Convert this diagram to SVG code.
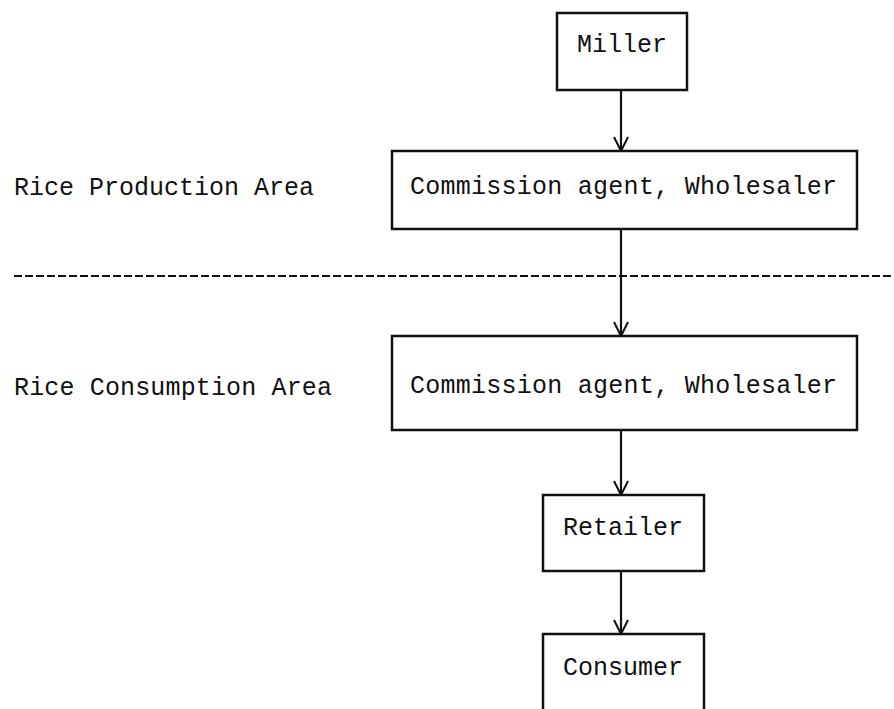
<svg xmlns="http://www.w3.org/2000/svg" width="894" height="709" viewBox="0 0 894 709">
<style>
.box{fill:#fff;stroke:#111;stroke-width:2.5}
.t{font-family:"Liberation Mono","Courier New",monospace;font-size:25px;fill:#111}
.c{text-anchor:middle}
.ln{stroke:#111;stroke-width:2.2;fill:none}
</style>
<defs>
<marker id="ah" viewBox="0 0 16 16" refX="15" refY="8" markerWidth="16" markerHeight="16" markerUnits="userSpaceOnUse" orient="auto">
<path d="M1,1 L15,8 L1,15" fill="none" stroke="#111" stroke-width="2"/>
</marker>
</defs>
<rect width="894" height="709" fill="#fff"/>
<g id="labels">
<text class="t" x="14" y="195" textLength="300">Rice Production Area</text>
<text class="t" x="14" y="395" textLength="318">Rice Consumption Area</text>
</g>
<g id="divider">
<line x1="14" y1="276" x2="894" y2="276" stroke="#111" stroke-width="2" stroke-dasharray="8 3"/>
</g>
<g id="connectors">
<line class="ln" x1="621" y1="90" x2="621" y2="151" marker-end="url(#ah)"/>
<line class="ln" x1="621" y1="229" x2="621" y2="336" marker-end="url(#ah)"/>
<line class="ln" x1="621" y1="430" x2="621" y2="495" marker-end="url(#ah)"/>
<line class="ln" x1="621" y1="571" x2="621" y2="634" marker-end="url(#ah)"/>
</g>
<g id="miller">
<rect class="box" x="557" y="13" width="130" height="77"/>
<text class="t c" x="622" y="52">Miller</text>
</g>
<g id="wholesaler-production">
<rect class="box" x="392" y="151" width="465" height="78"/>
<text class="t" x="410" y="194" textLength="427">Commission agent, Wholesaler</text>
</g>
<g id="wholesaler-consumption">
<rect class="box" x="392" y="336" width="465" height="94"/>
<text class="t" x="410" y="393" textLength="427">Commission agent, Wholesaler</text>
</g>
<g id="retailer">
<rect class="box" x="543" y="495" width="161" height="76"/>
<text class="t c" x="623" y="535">Retailer</text>
</g>
<g id="consumer">
<rect class="box" x="543" y="634" width="161" height="90"/>
<text class="t c" x="623" y="675">Consumer</text>
</g>
</svg>
